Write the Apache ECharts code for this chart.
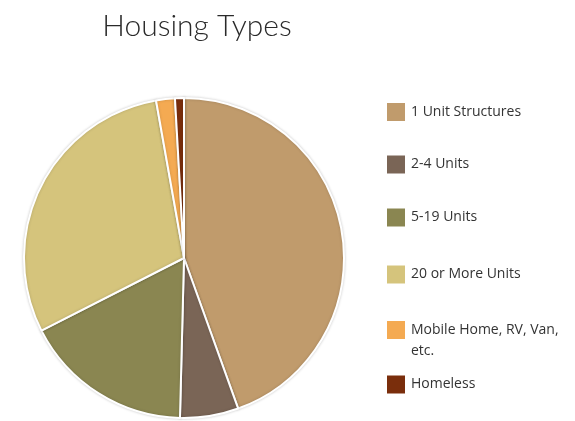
<!DOCTYPE html>
<html>
<head>
<meta charset="utf-8">
<script src="https://cdn.jsdelivr.net/npm/echarts@6/dist/echarts.min.js"></script>
<style>
  html, body { margin: 0; padding: 0; background: #ffffff; }
  #chart { width: 575px; height: 421px; }
</style>
</head>
<body>
<div id="chart"></div>
<script>
// Housing type shares (percent of households)
const categories = [
  '1 Unit Structures',
  '2-4 Units',
  '5-19 Units',
  '20 or More Units',
  'Mobile Home, RV, Van, etc.',
  'Homeless'
];
const shares = [44.5, 5.9, 17.1, 29.7, 1.9, 0.9];
const sliceColors = ['#C09B6C', '#7A6556', '#8A8651', '#D5C47C', '#F4AA52', '#7A2E0C'];

// Vertical centre of each legend row's swatch
const legendRowCentres = [111.5, 164, 217, 274, 330, 384];

const LINE_H = 21;
const chart = echarts.init(document.getElementById('chart'), null, { renderer: 'canvas' });

const legends = categories.map((name, i) => {
  const wrapped = name === 'Mobile Home, RV, Van, etc.';
  // The wrapped label gets a blank lead line so its first text line sits beside the swatch.
  return {
    orient: 'vertical',
    left: 385,
    top: wrapped ? legendRowCentres[i] - 1.5 * LINE_H : legendRowCentres[i] - LINE_H / 2,
    padding: 0,
    itemWidth: 20,
    itemHeight: 20,
    itemGap: 0,
    icon: 'rect',
    selectedMode: false,
    data: [name],
    formatter: wrapped ? () => '\nMobile Home, RV, Van,\netc.' : null,
    textStyle: {
      fontFamily: 'Open Sans',
      fontSize: 14,
      color: '#333333',
      lineHeight: LINE_H
    }
  };
});

chart.setOption({
  backgroundColor: '#ffffff',
  animation: false,
  color: sliceColors,
  title: {
    text: 'Housing Types',
    left: 197,
    textAlign: 'center',
    top: 11,
    padding: 0,
    textStyle: {
      fontFamily: 'Lato',
      fontWeight: 300,
      fontSize: 30,
      color: '#2a2a2a'
    }
  },
  legend: legends,
  series: [{
    type: 'pie',
    center: [184, 258],
    radius: [0, 160],
    startAngle: 90,
    clockwise: true,
    label: { show: false },
    labelLine: { show: false },
    emphasis: { disabled: true },
    itemStyle: {
      borderColor: '#ffffff',
      borderWidth: 2,
      shadowBlur: 3,
      shadowColor: 'rgba(0,0,0,0.18)'
    },
    data: categories.map((name, i) => ({ name, value: shares[i] }))
  }]
});
</script>
</body>
</html>
